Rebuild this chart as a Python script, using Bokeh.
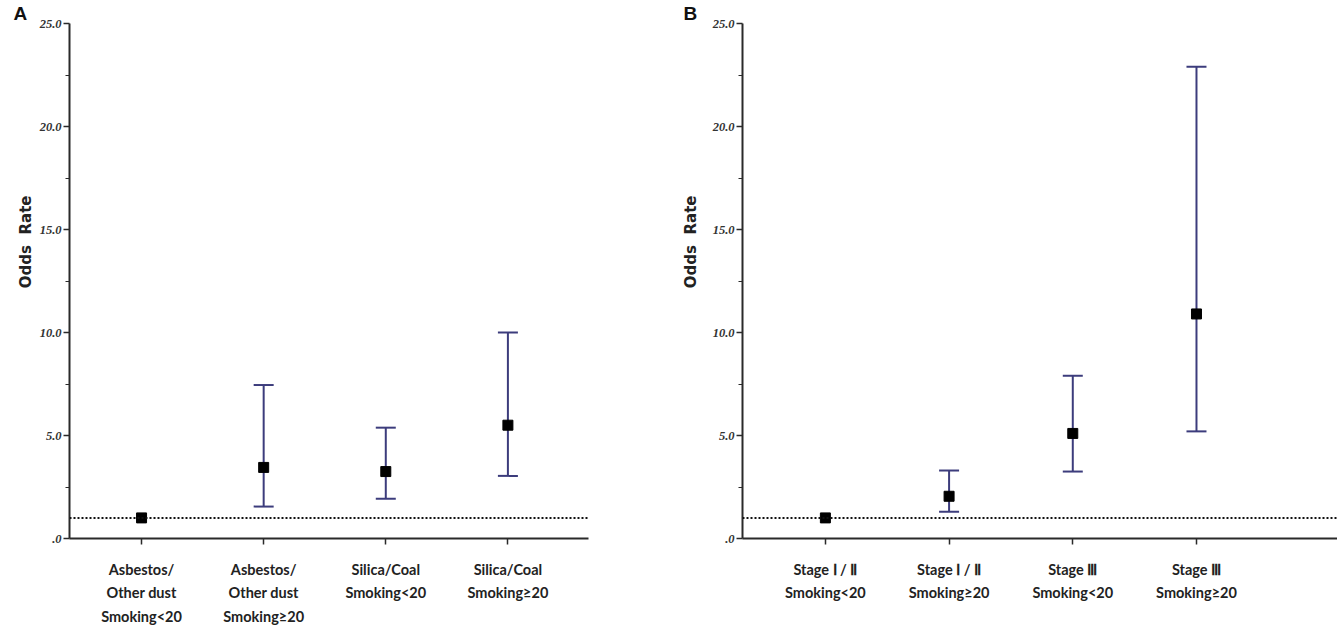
from bokeh.plotting import figure
from bokeh.layouts import row
from bokeh.models import (ColumnDataSource, Range1d, FixedTicker, Span, Whisker, TeeHead)
from bokeh.embed import file_html
from bokeh.resources import INLINE

# ---- data ----
labels_a = ["Asbestos/\nOther dust\nSmoking<20", "Asbestos/\nOther dust\nSmoking\u226520",
            "Silica/Coal\nSmoking<20", "Silica/Coal\nSmoking\u226520"]
or_a = [1.0, 3.45, 3.25, 5.5]
low_a = [None, 1.55, 1.93, 3.04]
up_a = [None, 7.45, 5.38, 10.0]

labels_b = ["Stage \u2160 / \u2161\nSmoking<20", "Stage \u2160 / \u2161\nSmoking\u226520",
            "Stage \u2162\nSmoking<20", "Stage \u2162\nSmoking\u226520"]
or_b = [1.0, 2.05, 5.1, 10.9]
low_b = [None, 1.3, 3.25, 5.2]
up_b = [None, 3.3, 7.9, 22.9]

y_ticks = [0, 5, 10, 15, 20, 25]
y_minor = [2.5, 7.5, 12.5, 17.5, 22.5]
y_tick_labels = [".0", "5.0", "10.0", "15.0", "20.0", "25.0"]
ref_value = 1.0
y_title = "\u00a0" * 15 + "Odds\u00a0\u00a0Rate"

BAR = "#3c3c7c"
AX = "#2a2a2a"


def make_panel(letter, letter_x, labels, ors, lows, ups, xr, width, border_left,
               border_right, label_standoff):
    p = figure(width=width, height=628, output_backend="svg", toolbar_location=None,
               x_range=Range1d(*xr), y_range=Range1d(0, 25),
               min_border_left=border_left, min_border_right=border_right,
               min_border_top=20, min_border_bottom=90, title=letter)
    p.outline_line_color = None
    p.xgrid.visible = False
    p.ygrid.visible = False
    p.background_fill_color = "white"

    p.title.text_font = "Liberation Sans"
    p.title.text_font_style = "bold"
    p.title.text_font_size = "19px"
    p.title.text_line_height = 0.8
    p.title.text_color = "#111111"
    p.title.align = "left"
    p.title.standoff = 0
    p.title.offset = letter_x - border_left

    xs = list(range(1, len(labels) + 1))

    # y axis
    p.yaxis.ticker = FixedTicker(ticks=y_ticks, minor_ticks=y_minor)
    p.yaxis.major_label_overrides = {t: l for t, l in zip(y_ticks, y_tick_labels)}
    p.yaxis.major_label_text_font = "Liberation Serif"
    p.yaxis.major_label_text_font_style = "bold italic"
    p.yaxis.major_label_text_font_size = "12.5px"
    p.yaxis.major_label_text_color = "#333333"
    p.yaxis.major_label_standoff = 2
    p.yaxis.axis_label = y_title
    p.yaxis.axis_label_text_font = "DejaVu Sans"
    p.yaxis.axis_label_text_font_style = "bold"
    p.yaxis.axis_label_text_font_size = "15px"
    p.yaxis.axis_label_text_color = "#222222"
    p.yaxis.axis_label_standoff = label_standoff
    p.yaxis.axis_line_width = 2
    p.yaxis.axis_line_color = AX
    p.yaxis.major_tick_line_color = AX
    p.yaxis.major_tick_line_width = 1.5
    p.yaxis.major_tick_out = 6
    p.yaxis.major_tick_in = 0
    p.yaxis.minor_tick_line_color = AX
    p.yaxis.minor_tick_out = 4
    p.yaxis.minor_tick_in = 0

    # x axis
    p.xaxis.ticker = FixedTicker(ticks=xs, minor_ticks=[])
    p.xaxis.major_label_overrides = {x: l for x, l in zip(xs, labels)}
    p.xaxis.major_label_text_font = "Lato"
    p.xaxis.major_label_text_font_style = "bold"
    p.xaxis.major_label_text_font_size = "14.5px"
    p.xaxis.major_label_text_color = "#222222"
    p.xaxis.major_label_text_line_height = 1.4
    p.xaxis.major_label_standoff = 16
    p.xaxis.axis_line_width = 2
    p.xaxis.axis_line_color = AX
    p.xaxis.major_tick_line_color = AX
    p.xaxis.major_tick_line_width = 1.5
    p.xaxis.major_tick_out = 6
    p.xaxis.major_tick_in = 0

    # reference line
    p.add_layout(Span(location=ref_value, dimension="width", line_color="#111111",
                      line_dash="2 2", line_width=2))

    # error bars
    wx = [x for x, lo in zip(xs, lows) if lo is not None]
    wl = [lo for lo in lows if lo is not None]
    wu = [u for u in ups if u is not None]
    src = ColumnDataSource(dict(x=wx, lower=wl, upper=wu))
    w = Whisker(base="x", lower="lower", upper="upper", source=src, dimension="height",
                line_color=BAR, line_width=2,
                upper_head=TeeHead(size=20, line_color=BAR, line_width=2),
                lower_head=TeeHead(size=20, line_color=BAR, line_width=2))
    p.add_layout(w)

    p.scatter(xs, ors, marker="square", size=10, color="black")
    return p


pa = make_panel("A", 13, labels_a, or_a, low_a, up_a, (0.41, 4.66), 668, 69, 80, 2)
pb = make_panel("B", 15, labels_b, or_b, low_b, up_b, (0.33, 5.14), 669, 74, 0, 10)

layout = row(pa, pb)
open("out.html", "w").write(file_html(layout, INLINE))
